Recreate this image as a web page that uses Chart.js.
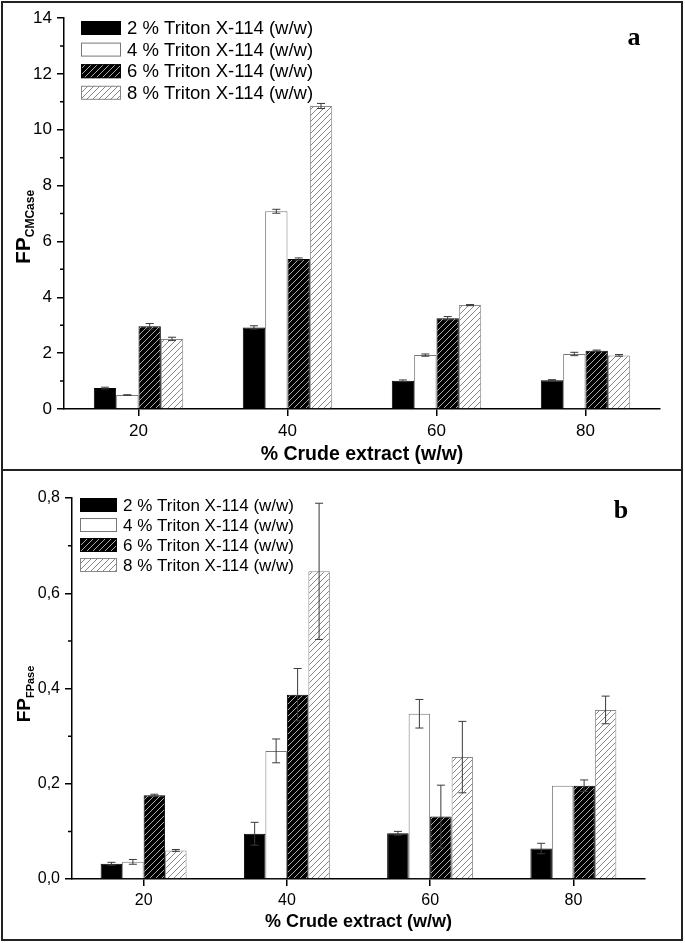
<!DOCTYPE html>
<html>
<head>
<meta charset="utf-8">
<script src="https://cdn.jsdelivr.net/npm/chart.js@4.4.0/dist/chart.umd.min.js"></script>
<style>
  body { margin: 0; background: #fff; }
  #pagina { position: relative; width: 685px; height: 943px; overflow: hidden; background: #fff; }
  .painel { position: absolute; left: 0; width: 685px; }
  .moldura { position: absolute; left: 1px; top: 1px; width: 678px; height: 936px; border: 2px solid #222; }
  .divisoria { position: absolute; left: 1px; top: 469px; width: 682px; height: 2px; background: #222; }
</style>
</head>
<body>
<div id="pagina">
  <div class="painel" style="top:0;height:470px"><canvas id="graficoA"></canvas></div>
  <div class="painel" style="top:470px;height:473px"><canvas id="graficoB"></canvas></div>
  <div class="moldura"></div>
  <div class="divisoria"></div>
</div>
<script>
// Categorias (% de extrato bruto)
var categorias = ['20', '40', '60', '80'];
var legendas = ['2 % Triton X-114 (w/w)', '4 % Triton X-114 (w/w)', '6 % Triton X-114 (w/w)', '8 % Triton X-114 (w/w)'];

// Painel a - FP CMCase
var cmc2 = [0.75, 2.92, 1.01, 1.03];
var cmc4 = [0.50, 7.08, 1.93, 1.97];
var cmc6 = [2.96, 5.37, 3.25, 2.09];
var cmc8 = [2.51, 10.85, 3.72, 1.92];
var cmc2Erro = [0.03, 0.06, 0.03, 0.02];
var cmc4Erro = [0.01, 0.07, 0.04, 0.06];
var cmc6Erro = [0.10, 0.04, 0.06, 0.02];
var cmc8Erro = [0.06, 0.09, 0.02, 0.03];
var ticksA = [0, 2, 4, 6, 8, 10, 12, 14];

// Painel b - FP FPase
var fpa2 = [0.032, 0.095, 0.096, 0.064];
var fpa4 = [0.036, 0.269, 0.347, 0.196];
var fpa6 = [0.176, 0.387, 0.131, 0.196];
var fpa8 = [0.060, 0.646, 0.256, 0.355];
var fpa2Erro = [0.003, 0.024, 0.004, 0.011];
var fpa4Erro = [0.005, 0.025, 0.030, 0];
var fpa6Erro = [0.002, 0.055, 0.066, 0.012];
var fpa8Erro = [0.002, 0.143, 0.075, 0.029];
var ticksB = [0, 0.2, 0.4, 0.6, 0.8];

var fonte = "'Liberation Sans', Arial, sans-serif";

// padrão hachurado (listras diagonais)
function hachura(ctx, fundo, linha, passo) {
    var c = document.createElement('canvas');
    c.width = passo; c.height = passo;
    var g = c.getContext('2d');
    g.fillStyle = fundo;
    g.fillRect(0, 0, passo, passo);
    g.strokeStyle = linha;
    g.lineWidth = 1;
    g.beginPath();
    g.moveTo(0, passo); g.lineTo(passo, 0);
    g.moveTo(-1, 1); g.lineTo(1, -1);
    g.moveTo(passo - 1, passo + 1); g.lineTo(passo + 1, passo - 1);
    g.stroke();
    return ctx.createPattern(c, 'repeat');
}

// barras de erro
var pluginErros = {
    id: 'erros',
    afterDatasetsDraw: function (chart) {
        var ctx = chart.ctx, escala = chart.scales.y;
        chart.data.datasets.forEach(function (ds, i) {
            var meta = chart.getDatasetMeta(i);
            meta.data.forEach(function (barra, j) {
                var e = ds.erros[j];
                if (!e) return;
                var v = ds.data[j];
                var y1 = escala.getPixelForValue(v + e);
                var y2 = escala.getPixelForValue(v - e);
                ctx.save();
                ctx.strokeStyle = '#3a3a3a';
                ctx.lineWidth = 1;
                ctx.beginPath();
                ctx.moveTo(barra.x, y1); ctx.lineTo(barra.x, y2);
                ctx.moveTo(barra.x - 4, y1); ctx.lineTo(barra.x + 4, y1);
                ctx.moveTo(barra.x - 4, y2); ctx.lineTo(barra.x + 4, y2);
                ctx.stroke();
                ctx.restore();
            });
        });
    }
};

// ticks menores no eixo y, legenda, letra do painel e título do eixo y
var pluginExtras = {
    id: 'extras',
    afterDraw: function (chart, args, op) {
        var ctx = chart.ctx, escala = chart.scales.y, area = chart.chartArea;
        ctx.save();
        ctx.strokeStyle = '#000';
        ctx.lineWidth = 1.5;
        ctx.beginPath();
        for (var k = 0; k < op.ticks.length - 1; k++) {
            var meio = (op.ticks[k] + op.ticks[k + 1]) / 2;
            var py = escala.getPixelForValue(meio);
            ctx.moveTo(area.left - 4, py);
            ctx.lineTo(area.left, py);
        }
        ctx.stroke();

        // legenda
        chart.data.datasets.forEach(function (ds, i) {
            var cy = op.legY + i * op.legPasso;
            ctx.fillStyle = ds.backgroundColor;
            ctx.fillRect(op.legX, cy - 7, op.legW, 14);
            ctx.strokeStyle = ds.borderColor;
            ctx.lineWidth = 1;
            ctx.strokeRect(op.legX + 0.5, cy - 6.5, op.legW - 1, 13);
            ctx.fillStyle = '#000';
            ctx.font = op.legFonte + 'px ' + fonte;
            ctx.textBaseline = 'middle';
            ctx.textAlign = 'left';
            ctx.fillText(ds.label, op.legX + op.legW + 6, cy + 1);
        });

        // letra do painel
        ctx.font = 'bold 26px "Liberation Serif", "Times New Roman", serif';
        ctx.textAlign = 'center';
        ctx.textBaseline = 'alphabetic';
        ctx.fillStyle = '#000';
        ctx.fillText(op.letra, op.letraX, op.letraY);

        // título do eixo y com subscrito
        ctx.translate(op.tituloX, op.tituloY);
        ctx.rotate(-Math.PI / 2);
        ctx.font = 'bold ' + op.t1 + 'px ' + fonte;
        var w1 = ctx.measureText('FP').width;
        ctx.font = 'bold ' + op.t2 + 'px ' + fonte;
        var w2 = ctx.measureText(op.sub).width;
        var x0 = -(w1 + w2) / 2;
        ctx.textAlign = 'left';
        ctx.font = 'bold ' + op.t1 + 'px ' + fonte;
        ctx.fillText('FP', x0, 0);
        ctx.font = 'bold ' + op.t2 + 'px ' + fonte;
        ctx.fillText(op.sub, x0 + w1, 4);
        ctx.restore();
    }
};

function montaGrafico(id, series, erros, cfg) {
    var ctx = document.getElementById(id).getContext('2d');
    var fundos = ['#000', '#fff', hachura(ctx, '#000', '#aaa', 6), hachura(ctx, '#fff', '#888', 6)];
    var bordas = ['#000', '#777', '#000', '#888'];
    var datasets = series.map(function (s, i) {
        return {
            label: legendas[i],
            data: s,
            erros: erros[i],
            backgroundColor: fundos[i],
            borderColor: bordas[i],
            borderWidth: 1,
            categoryPercentage: 0.6,
            barPercentage: 1.0
        };
    });
    return new Chart(ctx, {
        type: 'bar',
        data: { labels: categorias, datasets: datasets },
        options: {
            responsive: true,
            maintainAspectRatio: false,
            animation: false,
            layout: { padding: { left: 0, right: cfg.direita, top: cfg.topo, bottom: 0 } },
            plugins: {
                legend: { display: false },
                tooltip: { enabled: false },
                extras: cfg.extras
            },
            scales: {
                x: {
                    offset: true,
                    grid: { drawOnChartArea: false, offset: false, tickLength: 7, color: '#000', lineWidth: 1.5 },
                    border: { color: '#000', width: 1.5 },
                    ticks: { color: '#000', font: { family: fonte, size: cfg.fonteTick }, padding: 5 },
                    title: {
                        display: true,
                        text: '% Crude extract (w/w)',
                        color: '#000',
                        font: { family: fonte, size: cfg.fonteTitulo, weight: 'bold' },
                        padding: { top: 0, bottom: cfg.tituloPad }
                    },
                    afterFit: function (s) { s.height = cfg.alturaX; }
                },
                y: {
                    min: 0,
                    max: cfg.ticks[cfg.ticks.length - 1],
                    grid: { drawOnChartArea: false, tickLength: 7, color: '#000', lineWidth: 1.5 },
                    border: { color: '#000', width: 1.5 },
                    afterBuildTicks: function (s) {
                        s.ticks = cfg.ticks.map(function (v) { return { value: v }; });
                    },
                    ticks: {
                        color: '#000',
                        padding: 5,
                        font: { family: fonte, size: cfg.fonteTick },
                        callback: cfg.formato
                    },
                    afterFit: function (s) { s.width = cfg.larguraY; }
                }
            }
        },
        plugins: [pluginErros, pluginExtras]
    });
}

var graficoA = montaGrafico('graficoA',
    [cmc2, cmc4, cmc6, cmc8],
    [cmc2Erro, cmc4Erro, cmc6Erro, cmc8Erro],
    {
        direita: 25, topo: 18, alturaX: 61, larguraY: 64, fonteTick: 17, fonteTitulo: 19.5, tituloPad: 4,
        ticks: ticksA,
        formato: function (v) { return String(v); },
        extras: {
            ticks: ticksA, legX: 81, legY: 28, legPasso: 21.6, legW: 40, legFonte: 18.5,
            letra: 'a', letraX: 634, letraY: 45,
            tituloX: 30, tituloY: 227, t1: 21, t2: 12, sub: 'CMCase'
        }
    });

var graficoB = montaGrafico('graficoB',
    [fpa2, fpa4, fpa6, fpa8],
    [fpa2Erro, fpa4Erro, fpa6Erro, fpa8Erro],
    {
        direita: 40, topo: 28, alturaX: 64, larguraY: 72, fonteTick: 16, fonteTitulo: 18, tituloPad: 10,
        ticks: ticksB,
        formato: function (v) { return v.toFixed(1).replace('.', ','); },
        extras: {
            ticks: ticksB, legX: 80, legY: 35, legPasso: 20, legW: 37, legFonte: 17,
            letra: 'b', letraX: 621, letraY: 48,
            tituloX: 30, tituloY: 224, t1: 19, t2: 11, sub: 'FPase'
        }
    });
</script>
</body>
</html>
